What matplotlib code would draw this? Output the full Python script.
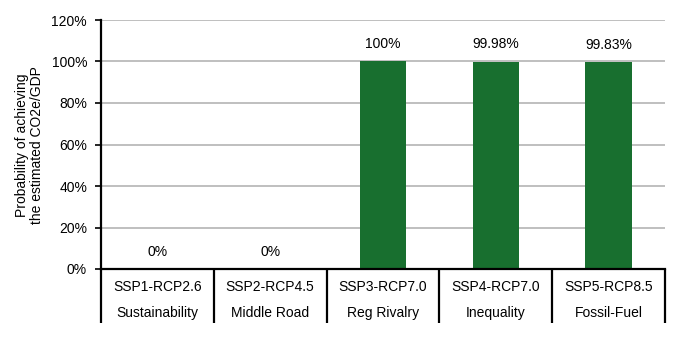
import matplotlib
matplotlib.use("Agg")
import matplotlib.pyplot as plt
import matplotlib.transforms as mtransforms

plt.rcParams['font.family'] = ['Liberation Sans', 'DejaVu Sans']

scenarios = ["SSP1-RCP2.6", "SSP2-RCP4.5", "SSP3-RCP7.0", "SSP4-RCP7.0", "SSP5-RCP8.5"]
narratives = ["Sustainability", "Middle Road", "Reg Rivalry", "Inequality", "Fossil-Fuel"]
probabilities = [0.0, 0.0, 100.0, 99.98, 99.83]
value_labels = ["0%", "0%", "100%", "99.98%", "99.83%"]
yticks = [0, 20, 40, 60, 80, 100, 120]
ytick_labels = ["0%", "20%", "40%", "60%", "80%", "100%", "120%"]

FS = 10

fig = plt.figure(figsize=(6.85, 3.37), dpi=100)
ax = fig.add_axes([101/685, 68/337, 564/685, 249/337])

x = list(range(len(scenarios)))
ax.bar(x, probabilities, width=0.41, color="#186f2f", zorder=3)

ax.set_xlim(-0.5, len(scenarios) - 0.5)
ax.set_ylim(0, 120)
ax.set_yticks(yticks)
ax.set_yticklabels(ytick_labels, fontsize=FS)
ax.set_xticks([])
ax.yaxis.grid(True, color="#b4b4b4", linewidth=1.2, zorder=0)
ax.tick_params(axis='y', length=4, width=1.2, color="black", pad=6)
for s in ["top", "right"]:
    ax.spines[s].set_visible(False)
ax.spines["left"].set_linewidth(1.6)
ax.spines["bottom"].set_linewidth(1.6)
ax.spines["bottom"].set_zorder(4)

for xi, v, lab in zip(x, probabilities, value_labels):
    ax.annotate(lab, (xi, v), xytext=(0, 12.3), textcoords="offset points",
                ha="center", va="center", fontsize=FS)

trans = mtransforms.blended_transform_factory(ax.transData, ax.transAxes)
for i in range(len(scenarios) + 1):
    ax.plot([i - 0.5, i - 0.5], [0, -0.218], transform=trans, color="black",
            linewidth=1.6, clip_on=False, solid_capstyle="butt")
for xi, sc, nar in zip(x, scenarios, narratives):
    ax.text(xi, -0.072, sc, transform=trans, ha="center", va="center", fontsize=FS)
    ax.text(xi, -0.177, nar, transform=trans, ha="center", va="center", fontsize=FS)

fig.text(29.5/685, 1 - 145/337, "Probability of achieving\nthe estimated CO2e/GDP",
         rotation=90, ha="center", va="center", fontsize=FS, linespacing=1.1)

fig.savefig("out.png", dpi=100)
